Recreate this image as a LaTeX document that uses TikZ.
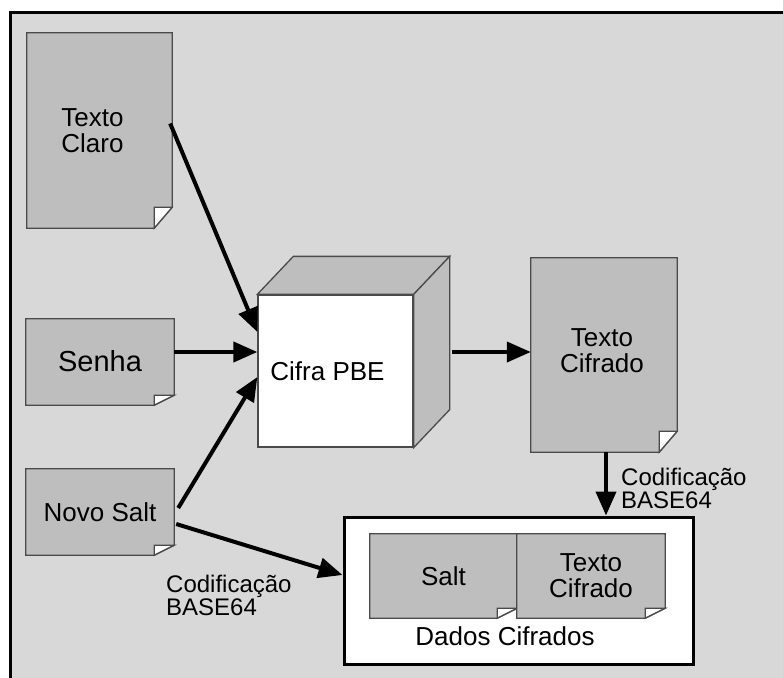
\documentclass[tikz,border=0pt]{standalone}
\usepackage{fontspec}
\setmainfont{Liberation Sans}
\usetikzlibrary{arrows.meta,calc}

\definecolor{canvas}{HTML}{D8D8D8}
\definecolor{paper}{HTML}{BEBEBE}
\definecolor{edge}{HTML}{4A4A4A}

\pgfdeclarelayer{bg}
\pgfdeclarelayer{shapes}
\pgfsetlayers{bg,shapes,main}

% sheet of paper behind a node, with its lower right corner folded over
% #1 node, #2 fold width, #3 fold height
\newcommand\foldeddoc[3]{%
  \draw[docedge, fill=paper] (#1.north west) -- (#1.north east)
    -- ([yshift=#3]#1.south east) -- ([xshift=-#2]#1.south east)
    -- (#1.south west) -- cycle;
  \draw[docedge, fill=white] ([xshift=-#2,yshift=#3]#1.south east)
    -- ([yshift=#3]#1.south east) -- ([xshift=-#2]#1.south east) -- cycle;
}

\tikzset{
  docnode/.style={inner sep=0pt, align=center, font=\fontsize{26}{26}\selectfont},
  docedge/.style={draw=edge, line width=1.3pt},
  flow/.style={line width=4pt, -{Triangle[length=24pt,width=20pt]}},
  note/.style={inner sep=0pt, align=left, anchor=west, font=\fontsize{24}{23}\selectfont},
}

\begin{document}
\begin{tikzpicture}[x=1pt, y=-1pt]
\useasboundingbox (0,0) rectangle (783,677);

% inputs
\node[docnode, minimum width=145pt, minimum height=195pt,
      label={[docnode, xshift=-7pt]center:Texto\\Claro}] (claro) at (99.5,130.5) {};
\node[docnode, minimum width=148pt, minimum height=86pt,
      font=\fontsize{29}{29}\selectfont] (senha) at (100,362) {\raisebox{2pt}{Senha}};
\node[docnode, minimum width=148pt, minimum height=86pt] (novo) at (100,512) {Novo Salt};

% cipher block (front face)
\node[docnode, minimum width=155pt, minimum height=152pt, fill=white, docedge,
      label={[docnode, xshift=-8pt]center:Cifra PBE}] (cube) at (335.5,371) {};

% output
\node[docnode, minimum width=146pt, minimum height=194pt,
      label={[docnode, xshift=-2pt, yshift=4pt]center:Texto\\Cifrado}] (cifrado) at (604,355) {};

% encoded data container
\node[draw=black, line width=3pt, inner sep=0pt, minimum width=349pt, minimum height=147pt] (box) at (518.5,590.5) {};
\node[docnode, minimum width=147pt, minimum height=84pt] (saltin) at (443.5,576) {Salt};
\node[docnode, minimum width=148pt, minimum height=84pt] (cifin) at (591,576) {Texto\\Cifrado};
\node[docnode] (dados) at (505,636) {Dados Cifrados};

% encoding notes
\node[note] (cod1) at (621,488) {Codificação\\BASE64};
\node[note] (cod2) at (166,595) {Codificação\\BASE64};

\begin{pgfonlayer}{bg}
  \fill[white] (0,0) rectangle (783,677);
  \draw[line width=3pt, fill=canvas] (10,13) rectangle (800,700);
  \fill[white] (box.north west) rectangle (box.south east);
\end{pgfonlayer}

\begin{pgfonlayer}{shapes}
  \foldeddoc{claro}{18pt}{21pt}
  \foldeddoc{senha}{20pt}{10pt}
  \foldeddoc{novo}{20pt}{10pt}
  \foldeddoc{cifrado}{18pt}{21pt}
  \foldeddoc{saltin}{20pt}{10pt}
  \foldeddoc{cifin}{20pt}{10pt}
  % top and side faces of the block
  \draw[docedge, fill=paper] (cube.north west) -- ([xshift=36pt,yshift=38pt]cube.north west)
    -- ([xshift=36pt,yshift=38pt]cube.north east) -- (cube.north east) -- cycle;
  \draw[docedge, fill=paper] (cube.north east) -- ([xshift=36pt,yshift=38pt]cube.north east)
    -- ([xshift=36pt,yshift=38pt]cube.south east) -- (cube.south east) -- cycle;
\end{pgfonlayer}

% data flow
\draw[flow] ([xshift=-2pt,yshift=7pt]claro.east) -- ([yshift=39pt]cube.west);
\draw[flow] ([yshift=10pt]senha.east) -- ([yshift=19pt]cube.west);
\draw[flow] ([xshift=4pt,yshift=4pt]novo.east) -- ([yshift=-6pt]cube.west);
\draw[flow] ([xshift=2pt,yshift=-12pt]novo.east) -- ([yshift=15.5pt]box.west);
\draw[flow] ([xshift=38pt,yshift=19pt]cube.east) -- ([yshift=3pt]cifrado.west);
\draw[flow] ([xshift=2pt]cifrado.south) -- ([xshift=2pt]cifrado.south |- box.north);
\end{tikzpicture}
\end{document}
